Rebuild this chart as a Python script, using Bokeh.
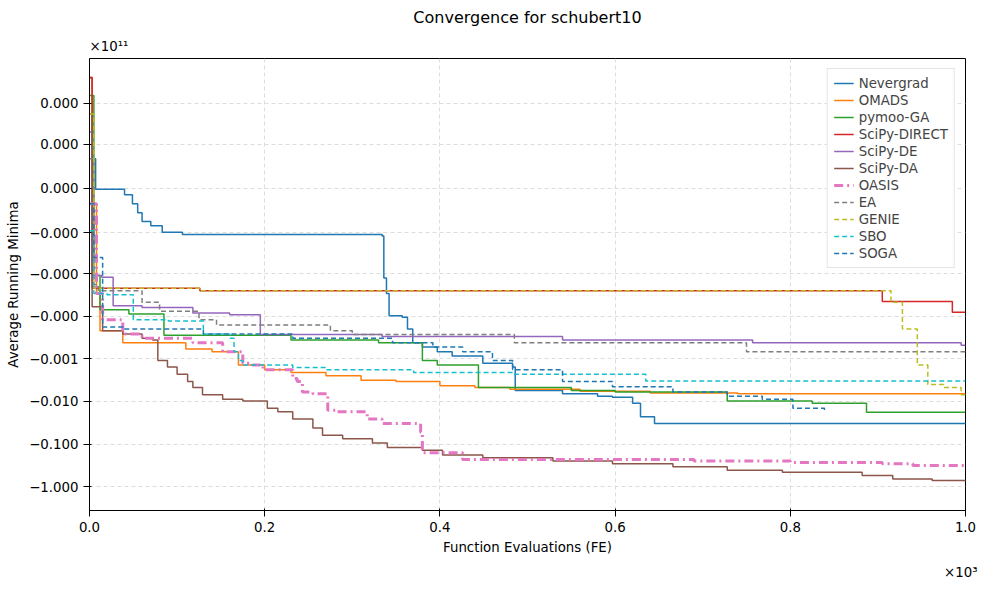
import numpy as np
from bokeh.plotting import figure
from bokeh.models import FixedTicker, Legend, Title
from bokeh.embed import file_html
from bokeh.resources import INLINE

# function evaluations and average running minima
ng_fe = [0, 3, 7, 32, 40, 49, 55, 60, 70, 83, 106, 334, 336, 339, 342, 357, 363, 369, 380, 397, 414, 449, 483, 486, 540, 580, 597, 620, 629, 645, 1000]
ng_y = [3.9e6, 4e4, -500, -500, -4e3, -1.3e4, -2.7e4, -5e4, -6.5e4, -9.7e4, -1.1e5, -1.2e5, -1.26e6, -2.9e6, -9.7e6, -1.06e7, -2e7, -4.2e7, -5.3e7, -6.8e7, -8.6e7, -1.27e8, -1.55e8, -5.5e8, -6.6e8, -7.6e8, -8e8, -1.1e9, -2.3e9, -3.3e9, -3.4e9]

om_fe = [0, 3, 8, 12, 38, 110, 140, 170, 200, 230, 270, 310, 350, 400, 440, 480, 560, 640, 740, 1000]
om_y = [4e6, -1.3e4, -2.9e6, -2.2e7, -4.2e7, -5.9e7, -6.8e7, -1.4e8, -1.8e8, -2.1e8, -2.5e8, -3.2e8, -3.4e8, -4.3e8, -4.7e8, -5.2e8, -5.8e8, -6.3e8, -6.6e8, -6.6e8]

ga_fe = [0, 5, 12, 45, 85, 230, 330, 380, 397, 444, 550, 600, 728, 825, 887, 1000]
ga_y = [1.5e6, -1.1e6, -7e6, -8.8e6, -2.8e7, -3.6e7, -4.2e7, -1.1e8, -1.4e8, -4.7e8, -5.5e8, -6e8, -9.8e8, -1.1e9, -1.8e9, -1.8e9]

di_fe = [0, 3, 126, 905, 985, 1000]
di_y = [4e6, -2.2e6, -2.5e6, -4.5e6, -8e6, -8e6]

de_fe = [0, 3, 14, 27, 60, 118, 160, 195, 334, 540, 757, 995, 1000]
de_y = [2e5, -1.1e6, -1.2e6, -5.7e6, -6.2e6, -8.4e6, -9.2e6, -2.7e7, -3e7, -3.6e7, -4.2e7, -4.8e7, -4.8e7]

da_fe = [0, 3, 15, 38, 60, 72, 78, 89, 100, 112, 118, 129, 152, 175, 203, 215, 232, 255, 266, 289, 323, 340, 380, 403, 449, 529, 597, 666, 728, 791, 882, 917, 962, 1000]
da_y = [5.5e5, -6e6, -2.2e7, -2.6e7, -3.3e7, -3.6e7, -1.1e8, -1.55e8, -2.3e8, -3.4e8, -4.7e8, -7e8, -8.9e8, -9.8e8, -1.45e9, -1.75e9, -2.6e9, -4.2e9, -6.2e9, -7.5e9, -9.5e9, -1.2e10, -1.4e10, -1.8e10, -2.1e10, -2.5e10, -2.9e10, -3.4e10, -4.1e10, -4.6e10, -5.5e10, -6.6e10, -7.2e10, -7.6e10]

oa_fe = [0, 8, 15, 38, 60, 118, 152, 175, 186, 198, 232, 237, 243, 255, 272, 283, 317, 334, 378, 380, 426, 690, 800, 905, 940, 1000]
oa_y = [-1.3e4, -2.9e6, -1.2e7, -2.6e7, -3.3e7, -4.2e7, -6.8e7, -1.27e8, -1.4e8, -1.8e8, -2.9e8, -3.4e8, -6e8, -6.6e8, -1.6e9, -1.75e9, -2.6e9, -3.3e9, -5.3e9, -1.6e10, -2.3e10, -2.5e10, -2.7e10, -2.9e10, -3.2e10, -3.4e10]

ea_fe = [0, 5, 10, 60, 80, 125, 145, 275, 300, 485, 750, 1000]
ea_y = [4e4, -1.8e6, -2.5e6, -4.7e6, -7.6e6, -1.2e7, -1.6e7, -2.2e7, -2.7e7, -4.2e7, -6.8e7, -6.8e7]

ge_fe = [0, 5, 126, 905, 915, 928, 945, 957, 975, 995, 1000]
ge_y = [5.5e5, -2.2e6, -2.5e6, -2.5e6, -4.7e6, -2e7, -1.4e8, -4e8, -4.7e8, -7e8, -7e8]

sb_fe = [0, 5, 20, 50, 90, 130, 160, 165, 170, 175, 232, 270, 370, 483, 635, 1000]
sb_y = [-8.8e4, -2.9e6, -3.1e6, -1.2e7, -1.3e7, -2.6e7, -3.3e7, -6.8e7, -1.1e8, -1.4e8, -1.6e8, -1.8e8, -2.1e8, -2.3e8, -3.3e8, -3.3e8]

so_fe = [0, 5, 15, 38, 130, 232, 346, 392, 426, 460, 483, 540, 597, 666, 728, 768, 803, 839]
so_y = [-1.3e4, -4.1e5, -1.8e7, -2e7, -2.6e7, -3.3e7, -4.2e7, -5.3e7, -6.8e7, -1.1e8, -1.8e8, -3.4e8, -4.5e8, -6e8, -7.6e8, -8.9e8, -1.45e9, -1.75e9]

tick_vals = [1e6, 1e5, 0, -1e5, -1e6, -1e7, -1e8, -1e9, -1e10, -1e11]
tick_text = ["0.000", "0.000", "0.000", "\u22120.000", "\u22120.000", "\u22120.000",
             "\u22120.001", "\u22120.010", "\u22120.100", "\u22121.000"]


def symlog(v, c=1e4):
    v = np.asarray(v, dtype=float)
    return np.sign(v) * np.log10(1 + np.abs(v) / c)


FONT = "DejaVu Sans"
p = figure(width=984, height=584, output_backend="svg", toolbar_location=None,
           x_range=(0, 1000), y_range=(-7.56, 3.05), title=None,
           min_border_left=89, min_border_right=19, min_border_top=4, min_border_bottom=20)

# offset multipliers, the way matplotlib puts them outside the frame
p.add_layout(Title(text="\u00d710\u00b3", align="right", text_font=FONT, text_font_size="10pt",
                   text_font_style="normal", text_color="black", offset=-12), "below")
p.add_layout(Title(text="\u00d710\u00b9\u00b9", align="left", text_font=FONT, text_font_size="10pt",
                   text_font_style="normal", text_color="black"), "above")
p.add_layout(Title(text="Convergence for schubert10", align="center", text_font=FONT,
                   text_font_size="12pt", text_font_style="normal", text_color="black"), "above")

series = [
    ("Nevergrad", ng_fe, ng_y, "#1f77b4", "solid", 1.5),
    ("OMADS", om_fe, om_y, "#ff7f0e", "solid", 1.5),
    ("pymoo-GA", ga_fe, ga_y, "#2ca02c", "solid", 1.5),
    ("SciPy-DIRECT", di_fe, di_y, "#d62728", "solid", 1.5),
    ("SciPy-DE", de_fe, de_y, "#9467bd", "solid", 1.5),
    ("SciPy-DA", da_fe, da_y, "#8c564b", "solid", 1.5),
    ("OASIS", oa_fe, oa_y, "#e377c2", "9 4 2 4", 3),
    ("EA", ea_fe, ea_y, "#7f7f7f", "5 3", 1.5),
    ("GENIE", ge_fe, ge_y, "#bcbd22", "5 3", 1.5),
    ("SBO", sb_fe, sb_y, "#17becf", "5 3", 1.5),
    ("SOGA", so_fe, so_y, "#1f77b4", "5 3", 1.5),
]
items = []
for name, fe, y, col, dash, w in series:
    r = p.step(fe, symlog(y), mode="after", line_color=col, line_dash=dash, line_width=w)
    items.append((name, [r]))

legend = Legend(items=items, location="top_right", label_text_font=FONT,
                label_text_font_size="10pt", spacing=1, padding=6,
                label_height=16, glyph_height=16, border_line_color="#cccccc")
p.add_layout(legend)

p.yaxis.ticker = FixedTicker(ticks=list(symlog(tick_vals)))
p.yaxis.major_label_overrides = {float(t): s for t, s in zip(symlog(tick_vals), tick_text)}
p.xaxis.ticker = FixedTicker(ticks=[0, 200, 400, 600, 800, 1000])
p.xaxis.major_label_overrides = {0: "0.0", 200: "0.2", 400: "0.4", 600: "0.6", 800: "0.8", 1000: "1.0"}
p.xaxis.axis_label = "Function Evaluations (FE)"
p.yaxis.axis_label = "Average Running Minima"
for ax in (p.xaxis, p.yaxis):
    ax.axis_label_text_font = FONT
    ax.axis_label_text_font_size = "10pt"
    ax.axis_label_text_font_style = "normal"
    ax.axis_label_text_color = "black"
    ax.major_label_text_font = FONT
    ax.major_label_text_font_size = "10pt"
    ax.major_label_text_color = "black"
    ax.minor_tick_line_color = None
    ax.axis_line_color = "black"
    ax.major_tick_line_color = "black"
p.grid.grid_line_color = "#dddddd"
p.grid.grid_line_dash = "4 3"
p.outline_line_color = "black"

open("out.html", "w").write(file_html(p, INLINE))
